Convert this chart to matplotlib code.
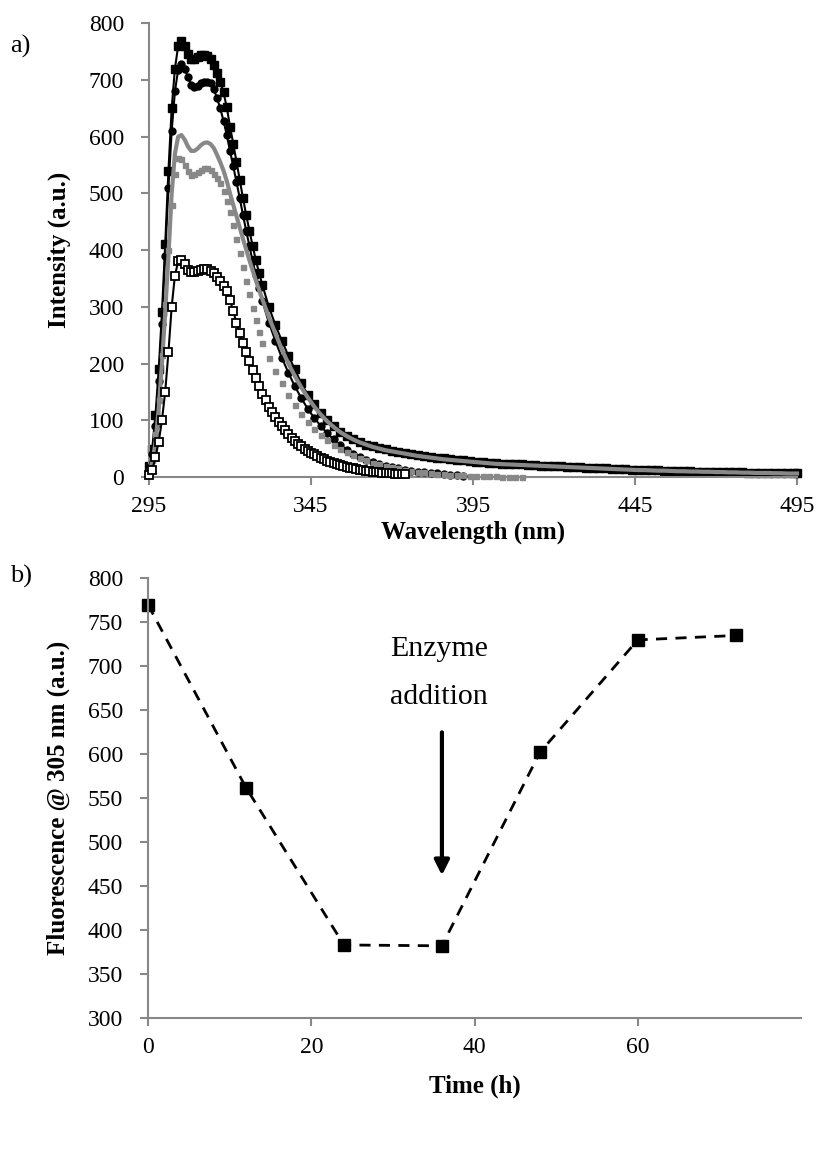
import matplotlib
matplotlib.use('Agg')
import matplotlib.pyplot as plt

plt.rcParams['font.family'] = ['Liberation Serif', 'DejaVu Serif']

# -- a) emission spectra --
wl_sq = list(range(295, 331)) + list(range(332, 495, 2)) + [495]
int_sq = [20, 50, 110, 190, 290, 410, 540, 650, 720, 760,
          768, 760, 746, 737, 737, 741, 744, 745, 743, 737,
          727, 712, 697, 678, 652, 618, 588, 556, 524, 492,
          462, 434, 407, 382, 359, 338,
          300, 268, 240, 214, 190, 165, 145, 128, 113, 100,
          89, 80, 72, 66, 61, 57, 54, 51, 48.5, 46,
          44, 42, 40, 38, 37, 35.5, 34, 32.5, 31, 30,
          29, 28, 27, 26, 25, 24, 23.5, 23, 22.5, 22,
          21, 20.5, 20, 19.5, 19, 18.5, 18, 17.5, 17, 16.5,
          16, 15.5, 15, 14.5, 14, 13.5, 13, 12.5, 12, 12,
          11.5, 11, 11, 10.5, 10, 10, 9.5, 9.5, 9, 9,
          8.5, 8.5, 8, 8, 7.5, 7.5, 7, 7, 7, 6.5,
          6.5, 6, 6]

wl_ci = list(range(295, 331)) + list(range(332, 393, 2))
int_ci = [15, 40, 90, 170, 270, 390, 510, 610, 680, 718,
          728, 720, 705, 692, 688, 690, 694, 697, 697, 694,
          684, 668, 650, 628, 603, 575, 548, 520, 492, 462,
          434, 407, 380, 356, 333, 310,
          272, 240, 210, 184, 160, 139, 120, 104, 90, 77,
          66, 56, 48, 41, 35, 30, 26, 23, 20, 17,
          15, 13, 11, 9.5, 8, 7, 6, 5, 4, 3, 2]

wl_gl = list(range(295, 321)) + list(range(322, 495, 2)) + [495]
int_gl = [10, 25, 60, 120, 200, 290, 390, 500, 570, 600,
          603, 595, 583, 575, 575, 579, 585, 589, 590, 587,
          580, 568, 555, 540, 522, 500,
          460, 420, 382, 346, 313, 282, 253, 225, 200, 178,
          158, 140, 124, 110, 98, 88, 79, 72, 66, 61,
          57, 53, 50, 47, 45, 43, 41, 39, 37, 35.5,
          34, 32.5, 31, 30, 29, 28, 27, 26, 25, 24,
          23, 22.5, 22, 21.5, 21, 20.5, 20, 19.5, 19, 18.5,
          18, 17.5, 17, 16.5, 16, 15.5, 15, 14.5, 14, 13.5,
          13, 12.5, 12, 12, 11.5, 11, 11, 10.5, 10, 10,
          9.5, 9.5, 9, 9, 8.5, 8.5, 8, 8, 7.5, 7.5,
          7, 7, 7, 6.5, 6.5, 6, 6, 6]

wl_gs = list(range(295, 331)) + list(range(332, 411, 2))
int_gs = [12, 30, 75, 135, 215, 305, 400, 480, 535, 563,
          560, 550, 539, 533, 534, 538, 542, 544, 544, 541,
          535, 528, 518, 504, 487, 467, 445, 420, 395, 370,
          346, 322, 298, 277, 256, 237,
          210, 187, 165, 145, 127, 111, 97, 85, 74, 65,
          57, 50, 44, 38, 33, 29, 25, 22, 19, 17,
          15, 13, 11, 9.5, 8, 6.5, 5.5, 4.5, 3.5, 3,
          2.5, 2, 1.5, 1.5, 1, 1, 0.5, 0.5, 0.5, 0.5]

wl_op = list(range(295, 375))
int_op = [3, 12, 35, 62, 100, 150, 220, 300, 355, 380,
          383, 375, 365, 361, 361, 363, 365, 366, 366, 364,
          359, 352, 345, 337, 327, 312, 292, 272, 253, 236,
          220, 204, 188, 174, 160, 147, 135, 124, 114, 105,
          97, 89, 82, 75, 69, 63, 58, 54, 50, 46,
          43, 40, 37, 34, 31, 28, 26, 24, 22, 20.5,
          19, 17.5, 16, 15, 14, 13, 12, 11, 10.5, 9.5,
          9, 8.5, 7.5, 7, 6.5, 6, 5.5, 5.5, 5, 5]

# -- b) fluorescence vs time --
time_h = [0, 12, 24, 36, 48, 60, 72]
fluo = [770, 562, 383, 382, 602, 730, 735]

gray = '#888888'
fig = plt.figure(figsize=(8.2, 11.66), dpi=100)

ax1 = fig.add_axes([0.1817, 0.591, 0.7903, 0.389])
ax1.plot(wl_sq, int_sq, color='black', lw=1.5, marker='s', ms=5.5,
         mfc='black', mec='black', zorder=2, clip_on=False)
ax1.plot(wl_ci, int_ci, color='black', lw=1.5, marker='o', ms=5,
         mfc='black', mec='black', zorder=3, clip_on=False)
ax1.plot(wl_gs, int_gs, ls='none', marker='s', ms=3.6,
         mfc=gray, mec=gray, zorder=4, clip_on=False)
ax1.plot(wl_gl, int_gl, color=gray, lw=3, zorder=5, clip_on=False)
ax1.plot(wl_op, int_op, color='black', lw=1.5, marker='s', ms=5.5,
         mfc='white', mec='black', mew=1.3, zorder=6, clip_on=False)

ax1.set_xlim(295, 495)
ax1.set_ylim(0, 800)
ax1.set_xticks([295, 345, 395, 445, 495])
ax1.set_yticks(range(0, 801, 100))
ax1.set_xlabel('Wavelength (nm)', fontsize=18, fontweight='bold', labelpad=2)
ax1.set_ylabel('Intensity (a.u.)', fontsize=18, fontweight='bold', labelpad=13)

ax2 = fig.add_axes([0.1805, 0.127, 0.7965, 0.377])
ax2.plot(time_h, fluo, color='black', lw=2, ls=(0, (4, 3)), marker='s',
         ms=8, mfc='black', mec='black', clip_on=False)
ax2.annotate('', xy=(36, 459), xytext=(36, 628),
             arrowprops=dict(arrowstyle='-|>', color='black', lw=3,
                             mutation_scale=22))
ax2.text(35.6, 720, 'Enzyme', fontsize=21.5, ha='center', va='center')
ax2.text(35.6, 665, 'addition', fontsize=21.5, ha='center', va='center')
ax2.set_xlim(0, 80)
ax2.set_ylim(300, 800)
ax2.set_xticks([0, 20, 40, 60])
ax2.set_yticks(range(300, 801, 50))
ax2.set_xlabel('Time (h)', fontsize=18, fontweight='bold', labelpad=12)
ax2.set_ylabel('Fluorescence @ 305 nm (a.u.)', fontsize=18, fontweight='bold', labelpad=13)

for ax in (ax1, ax2):
    for side in ('top', 'right'):
        ax.spines[side].set_visible(False)
    for side in ('left', 'bottom'):
        ax.spines[side].set_color(gray)
        ax.spines[side].set_linewidth(1.5)
    ax.tick_params(direction='out', length=6, width=1.5, color=gray,
                   labelsize=17)
    ax.tick_params(axis='y', pad=12)
    ax.tick_params(axis='x', pad=8)

fig.text(0.012, 0.955, 'a)', fontsize=19)
fig.text(0.012, 0.5, 'b)', fontsize=19)

plt.savefig('out.png', dpi=100)
